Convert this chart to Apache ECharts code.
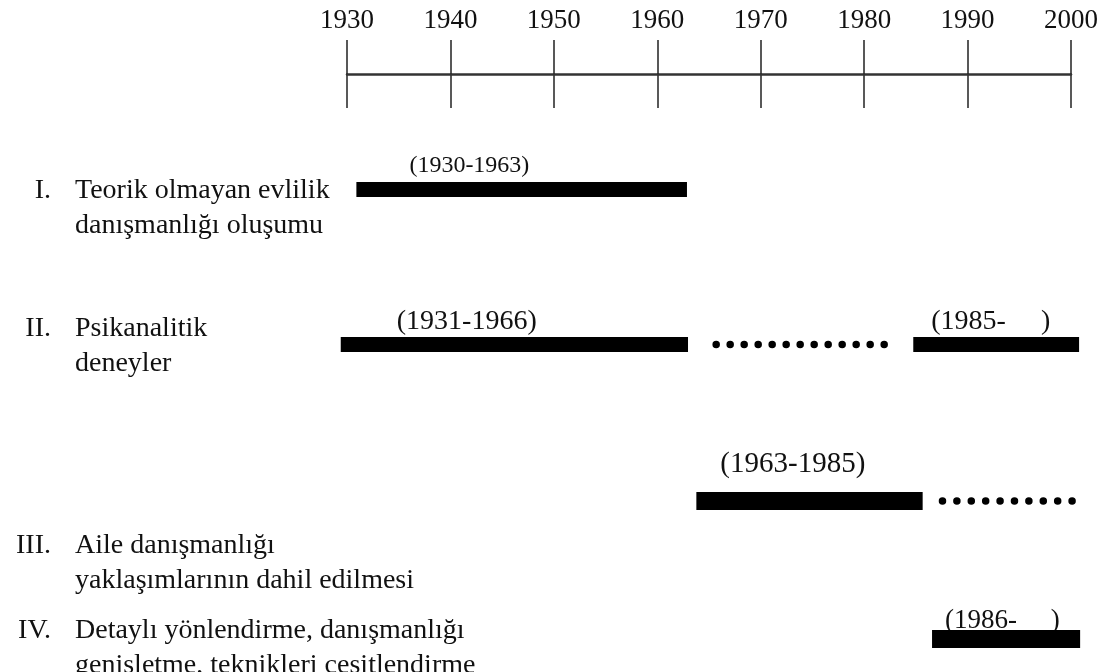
<!DOCTYPE html>
<html>
<head>
<meta charset="utf-8">
<style>
  html, body { margin: 0; padding: 0; background: #fff; }
  #chart { width: 1101px; height: 672px; }
</style>
<script src="https://cdn.jsdelivr.net/npm/echarts@6/dist/echarts.min.js"></script>
</head>
<body>
<div id="chart"></div>
<script>
// veriler
var tickYears = [1930, 1940, 1950, 1960, 1970, 1980, 1990, 2000];
var rowNumbers = ['I.', 'II.', 'III.', 'IV.'];
var rowTitles = [
  'Teorik olmayan evlilik\ndanışmanlığı oluşumu',
  'Psikanalitik\ndeneyler',
  'Aile danışmanlığı\nyaklaşımlarının dahil edilmesi',
  'Detaylı yönlendirme, danışmanlığı\ngenişletme, teknikleri çeşitlendirme'
];
// [satir, baslangic, bitis]
var solidRows = [0, 1, 1, 2, 3];
var solidStart = [1930.9, 1929.4, 1984.3, 1963.5, 1986.1];
var solidEnd = [1962.6, 1962.7, 2000.2, 1985.2, 2000.3];
var solidLabels = ['(1930-1963)', '(1931-1966)', '(1985-     )', '(1963-1985)', '(1986-     )'];
var dottedRows = [1, 2];
var dottedStart = [1965.4, 1987.1];
var dottedEnd = [1981.6, 1999.6];

// yerlesim (piksel)
var rowCenter = [189.5, 344.5, 501, 639];
var barHeight = [15, 15, 18, 18];
var titleTop = [173, 311, 528, 613];
var labelDx = [53, 56, 18, 24, 13];
var labelDy = [-24, -23, -23, -37, -18];
var labelSize = [24, 28, 28, 29, 27];
var dotGap = [14, 14.4];

var FONT = '"Liberation Serif", "Times New Roman", serif';
var LEFT = 347, RIGHT = 24;

var grids = [{ left: LEFT, right: RIGHT, top: 74, height: 34 }];
var xAxes = [{
  type: 'value', gridIndex: 0, position: 'top', min: 1930, max: 2000, interval: 10,
  axisLine: { show: true, onZero: false, lineStyle: { color: '#333', width: 2.5 } },
  axisTick: { show: true, inside: false, length: 34, lineStyle: { color: '#222', width: 1.5 } },
  splitLine: { show: true, lineStyle: { color: '#222', width: 1.5 } },
  axisLabel: {
    margin: 40, color: '#111', fontFamily: FONT, fontSize: 27,
    formatter: function (v) { return tickYears.indexOf(v) >= 0 ? String(v) : ''; }
  }
}];
var yAxes = [{ type: 'value', gridIndex: 0, show: false, min: 0, max: 1 }];
var series = [];

function renderSolid(params, api) {
  var s = api.coord([api.value(0), 0]);
  var e = api.coord([api.value(1), 0]);
  var i = api.value(2);
  var r = solidRows[i];
  return {
    type: 'group',
    children: [
      {
        type: 'text',
        style: {
          text: solidLabels[i], x: s[0] + labelDx[i], y: s[1] + labelDy[i],
          font: labelSize[i] + 'px ' + FONT, fill: '#111', verticalAlign: 'middle'
        }
      },
      {
        type: 'rect',
        shape: { x: s[0], y: s[1] - barHeight[r] / 2, width: e[0] - s[0], height: barHeight[r] },
        style: { fill: '#000' }
      }
    ]
  };
}

function renderDotted(params, api) {
  var s = api.coord([api.value(0), 0]);
  var e = api.coord([api.value(1), 0]);
  var i = api.value(2);
  return {
    type: 'line',
    shape: { x1: s[0], y1: s[1], x2: e[0] + 2, y2: e[1] },
    style: { stroke: '#000', lineWidth: 7.5, lineCap: 'round', lineDash: [0.01, dotGap[i] - 0.01] }
  };
}

for (var r = 0; r < 4; r++) {
  var g = r + 1;
  grids.push({ left: LEFT, right: RIGHT, top: rowCenter[r] - 20, height: 40 });
  xAxes.push({ type: 'value', gridIndex: g, min: 1930, max: 2000, show: false });
  yAxes.push({ type: 'value', gridIndex: g, min: -1, max: 1, show: false });

  var solidData = [];
  for (var i = 0; i < solidRows.length; i++) {
    if (solidRows[i] === r) solidData.push([solidStart[i], solidEnd[i], i]);
  }
  series.push({
    type: 'custom', xAxisIndex: g, yAxisIndex: g, clip: false, silent: true,
    renderItem: renderSolid, data: solidData
  });

  var dotData = [];
  for (var j = 0; j < dottedRows.length; j++) {
    if (dottedRows[j] === r) dotData.push([dottedStart[j], dottedEnd[j], j]);
  }
  if (dotData.length) {
    series.push({
      type: 'custom', xAxisIndex: g, yAxisIndex: g, clip: false, silent: true,
      renderItem: renderDotted, data: dotData
    });
  }
}

var graphics = [];
for (var k = 0; k < 4; k++) {
  graphics.push({
    type: 'text', x: 51, y: titleTop[k],
    style: { text: rowNumbers[k], font: '28px ' + FONT, fill: '#111', align: 'right', verticalAlign: 'top', lineHeight: 35 }
  });
  graphics.push({
    type: 'text', x: 75, y: titleTop[k],
    style: { text: rowTitles[k], font: '28px ' + FONT, fill: '#111', align: 'left', verticalAlign: 'top', lineHeight: 35 }
  });
}

var myChart = echarts.init(document.getElementById('chart'));
myChart.setOption({
  backgroundColor: '#fff',
  animation: false,
  grid: grids,
  xAxis: xAxes,
  yAxis: yAxes,
  series: series,
  graphic: graphics
});
</script>
</body>
</html>
